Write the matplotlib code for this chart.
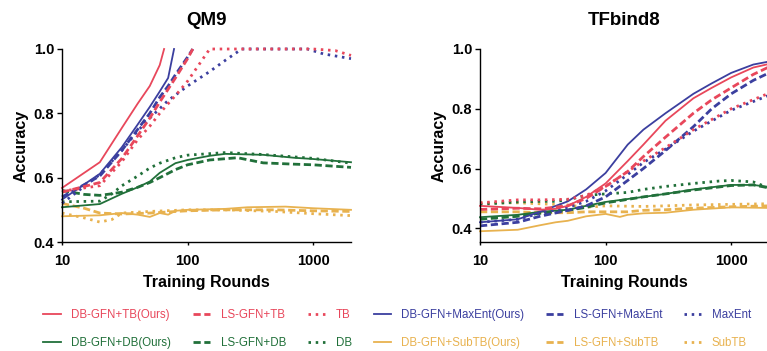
import numpy as np
import matplotlib
matplotlib.use("Agg")
import matplotlib.pyplot as plt
from matplotlib.lines import Line2D

plt.rcParams["font.family"]=["Liberation Sans","DejaVu Sans"]

RED="#e8475b"
BLUE="#3b3f9f"
GREEN="#21703a"
GOLD="#e8b24f"

# ---- QM9 ----
qm9_tb_ours_x=[10,20,30,40,50,60,65]
qm9_tb_ours_y=[0.568,0.648,0.755,0.83,0.885,0.95,1.0]
qm9_ls_tb_x=[10,20,30,40,50,60,70,80,100,110]
qm9_ls_tb_y=[0.555,0.585,0.66,0.73,0.785,0.835,0.875,0.91,0.97,1.0]
qm9_tb_x=[10,20,30,40,50,60,70,80,100,120,150,1000,1500,2000]
qm9_tb_y=[0.558,0.575,0.65,0.718,0.76,0.80,0.83,0.855,0.9,0.945,1.0,1.0,0.995,0.98]

qm9_maxent_ours_x=[10,20,30,40,50,60,70,78]
qm9_maxent_ours_y=[0.532,0.612,0.695,0.765,0.82,0.868,0.91,1.0]
qm9_ls_maxent_x=[10,20,30,40,50,60,70,80,100,110]
qm9_ls_maxent_y=[0.54,0.605,0.685,0.75,0.80,0.85,0.885,0.92,0.975,1.0]
qm9_maxent_x=[10,20,30,40,50,70,100,150,200,270,900,1200,2000]
qm9_maxent_y=[0.52,0.61,0.685,0.745,0.785,0.84,0.885,0.93,0.965,1.0,1.0,0.985,0.97]

qm9_db_ours_x=[10,20,30,40,50,60,80,100,150,200,400,700,1000,2000]
qm9_db_ours_y=[0.508,0.518,0.55,0.57,0.588,0.615,0.645,0.655,0.668,0.674,0.671,0.662,0.658,0.648]
qm9_ls_db_x=[10,15,20,25,30,40,50,60,80,100,150,250,400,700,1000,2000]
qm9_ls_db_y=[0.56,0.548,0.545,0.55,0.555,0.57,0.585,0.6,0.625,0.64,0.655,0.662,0.646,0.642,0.64,0.632]
qm9_db_x=[10,20,25,30,40,50,60,80,100,200,400,1000,2000]
qm9_db_y=[0.525,0.527,0.55,0.575,0.605,0.63,0.645,0.662,0.67,0.678,0.672,0.66,0.645]

qm9_subtb_ours_x=[10,20,30,40,50,60,70,80,100,200,300,600,1000,2000]
qm9_subtb_ours_y=[0.48,0.483,0.49,0.485,0.478,0.49,0.485,0.497,0.5,0.503,0.508,0.51,0.505,0.5]
qm9_ls_subtb_x=[10,15,20,30,50,100,200,500,1000,2000]
qm9_ls_subtb_y=[0.52,0.505,0.49,0.487,0.49,0.497,0.5,0.5,0.497,0.495]
qm9_subtb_x=[10,15,20,25,30,50,100,200,500,1000,2000]
qm9_subtb_y=[0.49,0.475,0.462,0.47,0.49,0.495,0.5,0.5,0.495,0.488,0.482]

# ---- TFbind8 ----
tf_tb_ours_x=[10,20,30,40,50,70,100,150,200,300,500,700,1000,1500,2000]
tf_tb_ours_y=[0.475,0.468,0.462,0.465,0.475,0.505,0.55,0.625,0.68,0.76,0.835,0.87,0.905,0.938,0.95]
tf_ls_tb_x=[10,20,30,50,70,100,150,200,300,500,700,1000,1500,2000]
tf_ls_tb_y=[0.463,0.467,0.465,0.475,0.5,0.54,0.59,0.64,0.705,0.785,0.83,0.87,0.915,0.94]
tf_tb_x=[10,20,30,50,70,100,150,200,300,500,1000,2000]
tf_tb_y=[0.485,0.495,0.495,0.497,0.51,0.54,0.59,0.625,0.67,0.73,0.8,0.852]

tf_maxent_ours_x=[10,20,30,50,70,100,150,200,300,500,700,1000,1500,2000]
tf_maxent_ours_y=[0.42,0.43,0.455,0.49,0.53,0.585,0.68,0.73,0.785,0.85,0.885,0.92,0.948,0.958]
tf_ls_maxent_x=[10,20,30,50,70,100,150,200,300,500,700,1000,1500,2000]
tf_ls_maxent_y=[0.408,0.42,0.44,0.46,0.475,0.505,0.56,0.6,0.66,0.74,0.8,0.85,0.895,0.92]
tf_maxent_x=[10,20,30,50,70,100,150,200,300,500,1000,2000]
tf_maxent_y=[0.42,0.43,0.45,0.47,0.49,0.525,0.58,0.62,0.665,0.725,0.795,0.845]

tf_db_ours_x=[10,20,30,50,70,100,200,300,500,1000,1500,2000]
tf_db_ours_y=[0.437,0.445,0.455,0.462,0.475,0.488,0.505,0.515,0.53,0.545,0.545,0.538]
tf_ls_db_x=[10,20,30,50,70,100,200,300,500,1000,1500,2000]
tf_ls_db_y=[0.43,0.44,0.45,0.46,0.47,0.485,0.505,0.515,0.528,0.543,0.545,0.535]
tf_db_x=[10,20,30,40,50,70,100,150,200,300,500,800,1000,1500,2000]
tf_db_y=[0.48,0.488,0.49,0.49,0.495,0.51,0.515,0.52,0.53,0.54,0.55,0.558,0.56,0.555,0.535]

tf_subtb_ours_x=[10,20,30,40,50,70,100,130,150,200,300,500,1000,2000]
tf_subtb_ours_y=[0.39,0.395,0.41,0.42,0.425,0.44,0.448,0.438,0.445,0.45,0.452,0.462,0.47,0.468]
tf_ls_subtb_x=[10,20,30,50,70,100,150,200,300,500,1000,2000]
tf_ls_subtb_y=[0.455,0.455,0.452,0.452,0.455,0.455,0.455,0.46,0.462,0.467,0.472,0.475]
tf_subtb_x=[10,20,30,50,70,100,200,300,500,1000,2000]
tf_subtb_y=[0.485,0.485,0.482,0.478,0.47,0.475,0.473,0.475,0.478,0.48,0.482]

legend_labels=["DB-GFN+TB(Ours)","DB-GFN+DB(Ours)","LS-GFN+TB","LS-GFN+DB","TB","DB",
               "DB-GFN+MaxEnt(Ours)","DB-GFN+SubTB(Ours)","LS-GFN+MaxEnt","LS-GFN+SubTB","MaxEnt","SubTB"]

SOLID=dict(linestyle="-",lw=1.3)
DASH=dict(linestyle=(0,(2.6,1.3)),lw=2.0)
DOT=dict(linestyle=(0,(0.9,1.7)),lw=2.0)

qm9_series=[
    (qm9_subtb_ours_x,qm9_subtb_ours_y,GOLD,SOLID),(qm9_ls_subtb_x,qm9_ls_subtb_y,GOLD,DASH),(qm9_subtb_x,qm9_subtb_y,GOLD,DOT),
    (qm9_db_ours_x,qm9_db_ours_y,GREEN,SOLID),(qm9_ls_db_x,qm9_ls_db_y,GREEN,DASH),(qm9_db_x,qm9_db_y,GREEN,DOT),
    (qm9_maxent_ours_x,qm9_maxent_ours_y,BLUE,SOLID),(qm9_ls_maxent_x,qm9_ls_maxent_y,BLUE,DASH),(qm9_maxent_x,qm9_maxent_y,BLUE,DOT),
    (qm9_tb_ours_x,qm9_tb_ours_y,RED,SOLID),(qm9_ls_tb_x,qm9_ls_tb_y,RED,DASH),(qm9_tb_x,qm9_tb_y,RED,DOT),
]
tf_series=[
    (tf_subtb_ours_x,tf_subtb_ours_y,GOLD,SOLID),(tf_ls_subtb_x,tf_ls_subtb_y,GOLD,DASH),(tf_subtb_x,tf_subtb_y,GOLD,DOT),
    (tf_db_ours_x,tf_db_ours_y,GREEN,SOLID),(tf_ls_db_x,tf_ls_db_y,GREEN,DASH),(tf_db_x,tf_db_y,GREEN,DOT),
    (tf_maxent_ours_x,tf_maxent_ours_y,BLUE,SOLID),(tf_ls_maxent_x,tf_ls_maxent_y,BLUE,DASH),(tf_maxent_x,tf_maxent_y,BLUE,DOT),
    (tf_tb_ours_x,tf_tb_ours_y,RED,SOLID),(tf_ls_tb_x,tf_ls_tb_y,RED,DASH),(tf_tb_x,tf_tb_y,RED,DOT),
]

fig=plt.figure(figsize=(7.67,3.51),dpi=100)
ax1=fig.add_axes([62/767,109/351,289/767,193/351])
ax2=fig.add_axes([480/767,109/351,289/767,193/351])

for ax,series,title,ylo in [(ax1,qm9_series,"QM9",0.4),(ax2,tf_series,"TFbind8",0.354)]:
    for xs,ys,c,st in series:
        ax.plot(xs,ys,color=c,clip_on=False,**st)
    ax.set_xscale("log")
    ax.set_xlim(10,2000)
    ax.set_ylim(ylo,1.0)
    ax.set_xticks([10,100,1000])
    ax.set_xticklabels(["10","100","1000"])
    ax.xaxis.set_minor_locator(matplotlib.ticker.NullLocator())
    ax.set_yticks([0.4,0.6,0.8,1.0])
    ax.set_yticklabels(["0.4","0.6","0.8","1.0"])
    for s in ["top","right"]:
        ax.spines[s].set_visible(False)
    for s in ["left","bottom"]:
        ax.spines[s].set_linewidth(1.0)
    ax.tick_params(axis="y",length=3.5,width=1,pad=2,labelsize=10.5)
    ax.tick_params(axis="x",length=2.5,width=1,pad=6,labelsize=10.5)
    for t in ax.get_xticklabels()+ax.get_yticklabels():
        t.set_fontweight("bold")
    ax.set_title(title,fontsize=13.5,fontweight="bold",pad=17)
    ax.set_xlabel("Training Rounds",fontsize=11.5,fontweight="bold",labelpad=5)
    ax.set_ylabel("Accuracy",fontsize=11.5,fontweight="bold",labelpad=4)

styles_order=[(RED,SOLID),(GREEN,SOLID),(RED,DASH),(GREEN,DASH),(RED,DOT),(GREEN,DOT),
              (BLUE,SOLID),(GOLD,SOLID),(BLUE,DASH),(GOLD,DASH),(BLUE,DOT),(GOLD,DOT)]
handles=[Line2D([],[],color=c,**st) for c,st in styles_order]
fig.legend(handles,legend_labels,ncol=6,loc="center",bbox_to_anchor=(0.518,0.062),frameon=False,
           fontsize=8.3,labelcolor="linecolor",handlelength=1.5,handletextpad=0.9,
           columnspacing=1.9,labelspacing=1.35)

fig.savefig("out.png",dpi=100)
